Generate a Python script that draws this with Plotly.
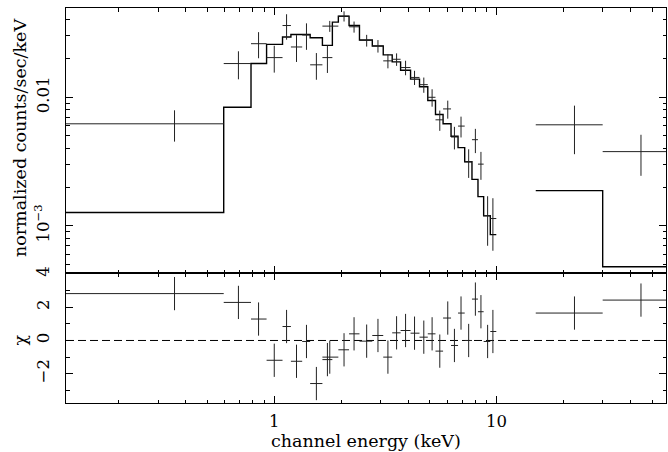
import math
import plotly.graph_objects as go

# ---------------- data ----------------
energy = [0.356, 0.690, 0.850, 1.000, 1.136, 1.259, 1.396, 1.547, 1.734, 1.777,
          2.060, 2.285, 2.604, 2.927, 3.245, 3.550, 3.896, 4.275, 4.706, 5.128,
          5.553, 6.030, 6.462, 6.918, 7.489, 8.028, 8.504, 9.112, 9.625, 22.4, 44.6]
e_lo = [0.1156, 0.5925, 0.786, 0.9236, 1.0894, 1.1882, 1.3353, 1.4502, 1.6466, 1.6466,
        1.9421, 2.1697, 2.4169, 2.760, 3.0914, 3.3922, 3.700, 4.102, 4.501, 4.904,
        5.311, 5.745, 6.239, 6.708, 7.187, 7.749, 8.247, 8.745, 9.370, 15.0, 30.0]
e_hi = [0.5925, 0.786, 0.9236, 1.0894, 1.1882, 1.3353, 1.4502, 1.6466, 1.8254, 1.9421,
        2.1697, 2.4169, 2.760, 3.0914, 3.3922, 3.700, 4.102, 4.501, 4.904, 5.311,
        5.745, 6.239, 6.708, 7.187, 7.749, 8.247, 8.745, 9.370, 9.970, 30.0, 60.0]
flux = [0.00622, 0.01830, 0.02612, 0.02036, 0.03616, 0.02463, 0.03050, 0.01789, 0.02036, 0.03578,
        0.04275, 0.03534, 0.02770, 0.02507, 0.01920, 0.01976, 0.01704, 0.01427, 0.01254, 0.01000,
        0.00668, 0.00812, 0.00491, 0.00597, 0.00315, 0.00468, 0.00302, 0.00120, 0.00114, 0.00611, 0.00378]
flux_err = [0.00170, 0.0045, 0.0060, 0.0048, 0.0081, 0.0058, 0.0071, 0.0042, 0.0049, 0.0035,
            0.0039, 0.0035, 0.0029, 0.0028, 0.0024, 0.0022, 0.0022, 0.0018, 0.0017, 0.00155,
            0.0012, 0.0013, 0.00098, 0.0011, 0.00079, 0.0010, 0.00074, 0.0005, 0.0005, 0.0025, 0.00133]
chi = [2.82, 2.29, 1.29, -1.19, 0.84, -1.25, -0.06, -2.59, -1.15, -1.0,
       -0.56, 0.40, -0.04, 0.30, -1.0, 0.46, 0.60, 0.44, 0.20, 0.40,
       -0.64, 1.35, -0.30, 1.65, 0.0, 2.49, 1.73, -0.06, 0.54, 1.65, 2.43]
chi_err = [1.0] * 28 + [1.3, 1.0, 1.0]

model_edges_low = [0.1156, 0.5925, 0.786, 0.9236, 1.0894, 1.1882, 1.3353, 1.4502, 1.6466, 1.8254,
                   1.9421, 2.1697, 2.4169, 2.760, 3.0914, 3.3922, 3.700, 4.102, 4.501, 4.904,
                   5.311, 5.745, 6.239, 6.708, 7.187, 7.749, 8.247, 8.745, 9.370, 9.970]
model_low = [0.001271, 0.008372, 0.01830, 0.02580, 0.02943, 0.03083, 0.03083, 0.02906, 0.02534, 0.03842,
             0.04275, 0.03616, 0.02790, 0.02507, 0.02136, 0.01886, 0.01624, 0.01385, 0.01209, 0.00943,
             0.00735, 0.00622, 0.004972, 0.004060, 0.003148, 0.002298, 0.001689, 0.001199, 0.000855]
model_edges_high = [15.0, 30.0, 60.0]
model_high = [0.001879, 0.000481]

x_ticks = [1, 10]
x_tick_labels = ["1", "10"]
x_minor = [0.2, 0.3, 0.4, 0.5, 0.6, 0.7, 0.8, 0.9, 2, 3, 4, 5, 6, 7, 8, 9, 20, 30, 40, 50]
y_ticks = [0.001, 0.01]
y_tick_labels = ["10<sup>\u22123</sup>", "0.01"]
y_minor = [0.0005, 0.0006, 0.0007, 0.0008, 0.0009, 0.002, 0.003, 0.004, 0.005, 0.006,
           0.007, 0.008, 0.009, 0.02, 0.03, 0.04, 0.05]
chi_ticks = [-2, 0, 2, 4]
chi_tick_labels = ["\u22122", "0", "2", "4"]
chi_minor = [-3, -1, 1, 3]

# ---------------- figure ----------------
W, H = 668, 452
L, R, T, B = 66, 1, 5, 49
split = 130.5 / (H - T - B)

FONT = "DejaVu Serif"
BLACK = "black"
TICKSIZE = 16.5
TITLESIZE = 17.5

xp = [h - e for h, e in zip(e_hi, energy)]
xm = [e - l for e, l in zip(energy, e_lo)]

fig = go.Figure()

# model (step histogram)
fig.add_trace(go.Scatter(x=model_edges_low, y=model_low + [model_low[-1]],
                         mode="lines", line=dict(shape="hv", color=BLACK, width=1.4),
                         xaxis="x2", yaxis="y2", hoverinfo="skip", showlegend=False))
fig.add_trace(go.Scatter(x=model_edges_high, y=model_high + [model_high[-1]],
                         mode="lines", line=dict(shape="hv", color=BLACK, width=1.4),
                         xaxis="x2", yaxis="y2", hoverinfo="skip", showlegend=False))

# data crosses
err_style = dict(color="#222222", thickness=1, width=0)
fig.add_trace(go.Scatter(x=energy, y=flux, mode="markers", marker=dict(size=1, color=BLACK, opacity=0),
                         error_x=dict(type="data", symmetric=False, array=xp, arrayminus=xm, **err_style),
                         error_y=dict(type="data", array=flux_err, **err_style),
                         xaxis="x2", yaxis="y2", showlegend=False))

# residuals
fig.add_trace(go.Scatter(x=energy, y=chi, mode="markers", marker=dict(size=1, color=BLACK, opacity=0),
                         error_x=dict(type="data", symmetric=False, array=xp, arrayminus=xm, **err_style),
                         error_y=dict(type="data", array=chi_err, **err_style),
                         xaxis="x", yaxis="y", showlegend=False))

fig.add_shape(type="line", xref="x domain", yref="y", x0=0, x1=1, y0=0, y1=0,
              line=dict(color=BLACK, width=1, dash="8px,4px"), layer="below")

common = dict(showline=True, linecolor=BLACK, linewidth=1, mirror="ticks",
              ticks="inside", ticklen=7, tickwidth=1, tickcolor=BLACK,
              showgrid=False, zeroline=False,
              tickfont=dict(family=FONT, size=TICKSIZE, color=BLACK))

xrange = [math.log10(0.1157), math.log10(57.8)]
fig.update_layout(
    width=W, height=H,
    margin=dict(l=L, r=R, t=T, b=B),
    paper_bgcolor="white", plot_bgcolor="white",
    font=dict(family=FONT, size=TICKSIZE, color=BLACK),
    xaxis=dict(domain=[0, 1], anchor="y", type="log", range=xrange,
               tickmode="array", tickvals=x_ticks, ticktext=x_tick_labels,
               ticklabelstandoff=3,
               minor=dict(tickmode="array", tickvals=x_minor, ticks="inside", ticklen=3.5,
                          tickwidth=1, tickcolor=BLACK, showgrid=False),
               **common),
    xaxis2=dict(domain=[0, 1], anchor="y2", type="log", range=xrange, matches="x",
                tickmode="array", tickvals=x_ticks, ticktext=x_tick_labels, showticklabels=False,
                minor=dict(tickmode="array", tickvals=x_minor, ticks="inside", ticklen=3.5,
                           tickwidth=1, tickcolor=BLACK, showgrid=False),
                **common),
    yaxis=dict(domain=[0, split], anchor="x", range=[-3.76, 4.03],
               tickmode="array", tickvals=chi_ticks, ticktext=chi_tick_labels, tickangle=-90,
               ticklabelstandoff=9,
               minor=dict(tickmode="array", tickvals=chi_minor, ticks="inside", ticklen=3.5,
                          tickwidth=1, tickcolor=BLACK, showgrid=False),
               **common),
    yaxis2=dict(domain=[split, 1], anchor="x2", type="log",
                range=[math.log10(4.26e-4), math.log10(0.0495)],
                tickmode="array", tickvals=y_ticks, ticktext=y_tick_labels, tickangle=-90,
                ticklabelstandoff=9,
                minor=dict(tickmode="array", tickvals=y_minor, ticks="inside", ticklen=3.5,
                           tickwidth=1, tickcolor=BLACK, showgrid=False),
                **common),
)

pw = W - L - R
ph = H - T - B
def px(xpix):
    return (xpix - L) / pw
def py(ypix):
    return (H - B - ypix) / ph

fig.add_annotation(text="channel energy (keV)", xref="paper", yref="paper",
                   x=0.5, y=py(441), xanchor="center", yanchor="middle", showarrow=False,
                   font=dict(family=FONT, size=TITLESIZE, color=BLACK))
fig.add_annotation(text="normalized counts/sec/keV", xref="paper", yref="paper",
                   x=px(20), y=py(136), xanchor="center", yanchor="middle", showarrow=False,
                   textangle=-90, font=dict(family=FONT, size=TITLESIZE, color=BLACK))
fig.add_annotation(text="\u03c7", xref="paper", yref="paper",
                   x=px(20), y=py(340), xanchor="center", yanchor="middle", showarrow=False,
                   textangle=-90, font=dict(family=FONT, size=TITLESIZE, color=BLACK))

fig.write_html("out.html")
